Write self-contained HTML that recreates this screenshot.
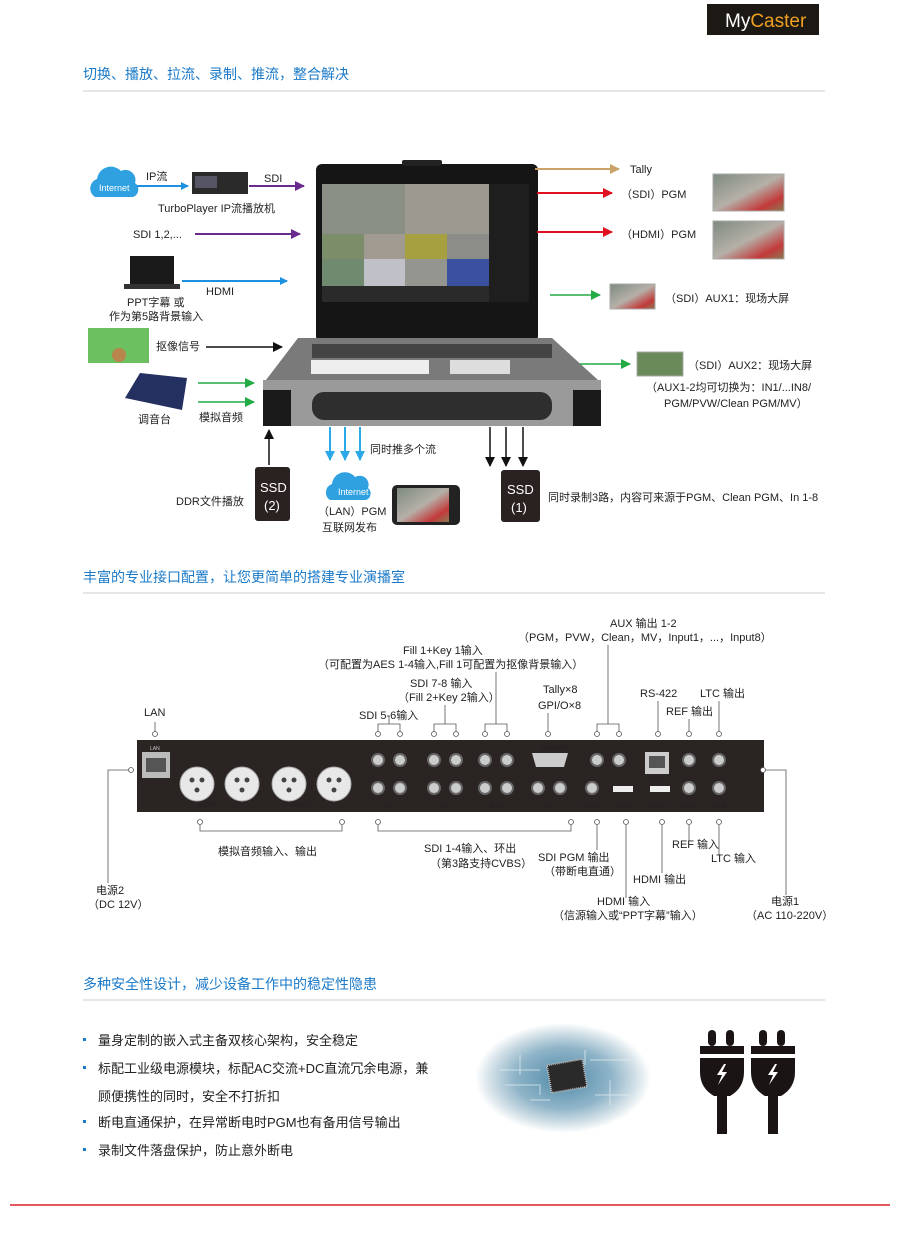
<!DOCTYPE html>
<html><head><meta charset="utf-8"><style>
html,body{margin:0;padding:0;background:#fff;width:900px;height:1245px;overflow:hidden}
svg text{font-family:"Liberation Sans","Noto Sans CJK SC",sans-serif;fill:#222}
</style></head><body>
<svg width="900" height="1245" viewBox="0 0 900 1245" xmlns="http://www.w3.org/2000/svg">
<defs>
<marker id="mb" markerWidth="8" markerHeight="8" refX="7" refY="4" orient="auto" markerUnits="userSpaceOnUse"><path d="M0,0L8,4L0,8z" fill="#1e90e0"/></marker>
<marker id="mp" markerWidth="10" markerHeight="10" refX="9" refY="5" orient="auto" markerUnits="userSpaceOnUse"><path d="M0,0L10,5L0,10z" fill="#6a2a8e"/></marker>
<marker id="mk" markerWidth="10" markerHeight="10" refX="9" refY="5" orient="auto" markerUnits="userSpaceOnUse"><path d="M0,0L10,5L0,10z" fill="#111"/></marker>
<marker id="mg" markerWidth="10" markerHeight="10" refX="9" refY="5" orient="auto" markerUnits="userSpaceOnUse"><path d="M0,0L10,5L0,10z" fill="#22aa44"/></marker>
<marker id="mr" markerWidth="10" markerHeight="10" refX="9" refY="5" orient="auto" markerUnits="userSpaceOnUse"><path d="M0,0L10,5L0,10z" fill="#e01020"/></marker>
<marker id="mt" markerWidth="10" markerHeight="10" refX="9" refY="5" orient="auto" markerUnits="userSpaceOnUse"><path d="M0,0L10,5L0,10z" fill="#c9a36a"/></marker>
<marker id="mc" markerWidth="10" markerHeight="10" refX="9" refY="5" orient="auto" markerUnits="userSpaceOnUse"><path d="M0,0L10,5L0,10z" fill="#2aa8e8"/></marker>
<linearGradient id="race" x1="0" y1="0" x2="1" y2="1"><stop offset="0" stop-color="#7d8a80"/><stop offset=".5" stop-color="#b5b0a8"/><stop offset=".8" stop-color="#c23a3a"/><stop offset="1" stop-color="#8a7a50"/></linearGradient>
<radialGradient id="chip" cx=".5" cy=".5" r=".5"><stop offset="0" stop-color="#4f8aa8"/><stop offset=".55" stop-color="#8fb4c8"/><stop offset=".85" stop-color="#d8e4ea"/><stop offset="1" stop-color="#fff"/></radialGradient>
</defs>

<rect x="707" y="4" width="112" height="31" fill="#1c1814"/>
<text x="725" y="27" font-size="19" style="fill:#fff">My<tspan style="fill:#f0a020">Caster</tspan></text>

<text x="83" y="79" font-size="14" style="fill:#1a7ac8">切换、播放、拉流、录制、推流，整合解决</text>
<line x1="83" y1="91" x2="825" y2="91" stroke="#ccc" stroke-width="1"/>
<text x="83" y="582" font-size="14" style="fill:#1a7ac8">丰富的专业接口配置，让您更简单的搭建专业演播室</text>
<line x1="83" y1="593" x2="825" y2="593" stroke="#ccc"/>
<text x="83" y="989" font-size="14" style="fill:#1a7ac8">多种安全性设计，减少设备工作中的稳定性隐患</text>
<line x1="83" y1="1000" x2="825" y2="1000" stroke="#ccc"/>
<line x1="10" y1="1205" x2="890" y2="1205" stroke="#d8202a" stroke-width="1.5"/>

<g font-size="11">
<path d="M95,197 a10,10 0 0 1 2,-18 a14,14 0 0 1 24,-8 a10,10 0 0 1 14,12 a8,8 0 0 1 -2,14 z" fill="#2fa0e0"/>
<text x="99" y="191" font-size="9" style="fill:#fff">Internet</text>
<text x="146" y="180">IP流</text>
<line x1="137" y1="186" x2="188" y2="186" stroke="#1e90e0" stroke-width="2" marker-end="url(#mb)"/>
<rect x="192" y="172" width="56" height="22" fill="#2a2a2a"/><rect x="195" y="176" width="22" height="12" fill="#556"/>
<text x="158" y="212">TurboPlayer IP流播放机</text>
<text x="264" y="182">SDI</text>
<line x1="249" y1="186" x2="304" y2="186" stroke="#6a2a8e" stroke-width="2" marker-end="url(#mp)"/>
<text x="133" y="238">SDI 1,2,...</text>
<line x1="195" y1="234" x2="300" y2="234" stroke="#6a2a8e" stroke-width="2" marker-end="url(#mp)"/>
<rect x="130" y="256" width="44" height="28" fill="#1a1a1a"/><rect x="124" y="284" width="56" height="5" fill="#333"/>
<line x1="182" y1="281" x2="287" y2="281" stroke="#1e90e0" stroke-width="2" marker-end="url(#mb)"/>
<text x="206" y="295">HDMI</text>
<text x="127" y="306">PPT字幕 或</text>
<text x="109" y="320">作为第5路背景输入</text>
<rect x="88" y="328" width="61" height="35" fill="#6cc060"/><circle cx="119" cy="355" r="7" fill="#b8864a"/>
<text x="156" y="350">抠像信号</text>
<line x1="206" y1="347" x2="282" y2="347" stroke="#111" stroke-width="1.5" marker-end="url(#mk)"/>
<path d="M125,398 L140,373 L187,378 L182,410 Z" fill="#243060"/>
<line x1="198" y1="383" x2="254" y2="383" stroke="#22aa44" stroke-width="1.5" marker-end="url(#mg)"/>
<line x1="198" y1="402" x2="254" y2="402" stroke="#22aa44" stroke-width="1.5" marker-end="url(#mg)"/>
<text x="138" y="423">调音台</text>
<text x="199" y="421">模拟音频</text>

<rect x="316" y="164" width="222" height="178" rx="6" fill="#151515"/>
<rect x="402" y="160" width="40" height="6" rx="2" fill="#222"/>
<rect x="322" y="184" width="207" height="118" fill="url(#race)"/>
<rect x="322" y="184" width="83" height="50" fill="#8a8f85"/><rect x="405" y="184" width="84" height="50" fill="#9c9a90"/>
<rect x="322" y="234" width="42" height="25" fill="#7c8d6a"/><rect x="364" y="234" width="41" height="25" fill="#a09a90"/>
<rect x="405" y="234" width="42" height="25" fill="#a6a040"/><rect x="447" y="234" width="42" height="25" fill="#8c8c88"/>
<rect x="322" y="259" width="42" height="27" fill="#708a70"/><rect x="364" y="259" width="41" height="27" fill="#c0c0c8"/>
<rect x="405" y="259" width="42" height="27" fill="#959590"/><rect x="447" y="259" width="42" height="27" fill="#3a50a0"/>
<rect x="322" y="286" width="167" height="16" fill="#2a2a2a"/>
<rect x="489" y="184" width="40" height="118" fill="#1e1e1e"/>
<path d="M298,338 L552,338 L598,380 L266,380 Z" fill="#7a7a7a"/>
<rect x="312" y="344" width="240" height="14" fill="#444"/>
<rect x="311" y="360" width="118" height="14" fill="#eee"/>
<rect x="450" y="360" width="60" height="14" fill="#ddd"/>
<rect x="263" y="380" width="338" height="46" fill="#9a9a9a"/>
<rect x="312" y="392" width="240" height="28" rx="12" fill="#2e2e2e"/>
<rect x="263" y="390" width="28" height="36" fill="#1a1a1a"/><rect x="573" y="390" width="28" height="36" fill="#1a1a1a"/>

<line x1="269" y1="465" x2="269" y2="430" stroke="#111" stroke-width="1.5" marker-end="url(#mk)"/>
<rect x="255" y="467" width="35" height="54" rx="3" fill="#2a2220"/>
<text x="260" y="492" font-size="13" style="fill:#fff">SSD</text><text x="264" y="510" font-size="13" style="fill:#fff">(2)</text>
<text x="176" y="505">DDR文件播放</text>
<line x1="330" y1="427" x2="330" y2="460" stroke="#2aa8e8" stroke-width="2" marker-end="url(#mc)"/>
<line x1="345" y1="427" x2="345" y2="460" stroke="#2aa8e8" stroke-width="2" marker-end="url(#mc)"/>
<line x1="360" y1="427" x2="360" y2="460" stroke="#2aa8e8" stroke-width="2" marker-end="url(#mc)"/>
<text x="370" y="453">同时推多个流</text>
<path d="M330,500 a9,9 0 0 1 2,-16 a13,13 0 0 1 23,-7 a9,9 0 0 1 13,11 a7,7 0 0 1 -2,12 z" fill="#2fa0e0"/>
<text x="338" y="495" font-size="9" style="fill:#fff">Internet</text>
<text x="318" y="515">（LAN）PGM</text>
<text x="322" y="531">互联网发布</text>
<rect x="392" y="485" width="68" height="40" rx="5" fill="#222"/><rect x="397" y="488" width="52" height="34" fill="url(#race)"/>
<line x1="490" y1="427" x2="490" y2="466" stroke="#111" stroke-width="1.5" marker-end="url(#mk)"/>
<line x1="506" y1="427" x2="506" y2="466" stroke="#111" stroke-width="1.5" marker-end="url(#mk)"/>
<line x1="523" y1="427" x2="523" y2="466" stroke="#111" stroke-width="1.5" marker-end="url(#mk)"/>
<rect x="501" y="470" width="39" height="52" rx="3" fill="#2a2220"/>
<text x="507" y="494" font-size="13" style="fill:#fff">SSD</text><text x="511" y="512" font-size="13" style="fill:#fff">(1)</text>
<text x="548" y="501">同时录制3路，内容可来源于PGM、Clean PGM、In 1-8</text>

<line x1="535" y1="169" x2="619" y2="169" stroke="#c9a36a" stroke-width="2" marker-end="url(#mt)"/>
<text x="630" y="173">Tally</text>
<line x1="537" y1="193" x2="612" y2="193" stroke="#e01020" stroke-width="2" marker-end="url(#mr)"/>
<text x="621" y="198">（SDI）PGM</text>
<line x1="537" y1="232" x2="612" y2="232" stroke="#e01020" stroke-width="2" marker-end="url(#mr)"/>
<text x="621" y="238">（HDMI）PGM</text>
<rect x="713" y="174" width="71" height="37" fill="url(#race)" stroke="#aaa"/>
<rect x="713" y="221" width="71" height="38" fill="url(#race)" stroke="#aaa"/>
<line x1="550" y1="295" x2="600" y2="295" stroke="#22aa44" stroke-width="1.5" marker-end="url(#mg)"/>
<rect x="610" y="284" width="45" height="25" fill="url(#race)" stroke="#aaa"/>
<text x="665" y="302">（SDI）AUX1：现场大屏</text>
<line x1="580" y1="364" x2="630" y2="364" stroke="#22aa44" stroke-width="1.5" marker-end="url(#mg)"/>
<rect x="637" y="352" width="46" height="24" fill="#6a8a5a" stroke="#aaa"/>
<text x="688" y="369">（SDI）AUX2：现场大屏</text>
<text x="646" y="391">（AUX1-2均可切换为：IN1/...IN8/</text>
<text x="664" y="407">PGM/PVW/Clean PGM/MV）</text>
</g>

<g font-size="11" stroke="#555" stroke-width="0.8" fill="none">
<text x="610" y="627" stroke="none">AUX 输出 1-2</text>
<text x="518" y="641" stroke="none">（PGM，PVW，Clean，MV，Input1，...，Input8）</text>
<text x="403" y="654" stroke="none">Fill 1+Key 1输入</text>
<text x="318" y="668" stroke="none">（可配置为AES 1-4输入,Fill 1可配置为抠像背景输入）</text>
<text x="410" y="687" stroke="none">SDI 7-8 输入</text>
<text x="398" y="701" stroke="none">（Fill 2+Key 2输入）</text>
<text x="543" y="693" stroke="none">Tally×8</text>
<text x="538" y="709" stroke="none">GPI/O×8</text>
<text x="640" y="697" stroke="none">RS-422</text>
<text x="700" y="697" stroke="none">LTC 输出</text>
<text x="666" y="715" stroke="none">REF 输出</text>
<text x="359" y="719" stroke="none">SDI 5-6输入</text>
<text x="144" y="716" stroke="none">LAN</text>
<path d="M155,722V732 M378,732V724H400V732 M389,724V716 M434,732V724H456V732 M445,724V705 M485,732V724H507V732 M496,724V672 M548,732V713 M597,732V724H619V732 M608,724V645 M658,732V701 M689,732V719 M719,732V701"/>
<g fill="#fff">
<circle cx="155" cy="734" r="2.5"/><circle cx="378" cy="734" r="2.5"/><circle cx="400" cy="734" r="2.5"/><circle cx="434" cy="734" r="2.5"/><circle cx="456" cy="734" r="2.5"/><circle cx="485" cy="734" r="2.5"/><circle cx="507" cy="734" r="2.5"/><circle cx="548" cy="734" r="2.5"/><circle cx="597" cy="734" r="2.5"/><circle cx="619" cy="734" r="2.5"/><circle cx="658" cy="734" r="2.5"/><circle cx="689" cy="734" r="2.5"/><circle cx="719" cy="734" r="2.5"/>
</g>
</g>
<rect x="137" y="740" width="627" height="72" fill="#2a2422"/>
<g font-size="5" style="fill:#ddd">
<rect x="142" y="752" width="28" height="26" fill="#bbb"/><rect x="146" y="758" width="20" height="14" fill="#555"/>
<text x="150" y="750" style="fill:#ccc">LAN</text>
<g fill="#e8e8e8" stroke="#aaa">
<circle cx="197" cy="784" r="17"/><circle cx="242" cy="784" r="17"/><circle cx="289" cy="784" r="17"/><circle cx="334" cy="784" r="17"/>
</g>
<g fill="#444"><circle cx="192" cy="780" r="2.5"/><circle cx="202" cy="780" r="2.5"/><circle cx="197" cy="790" r="2.5"/><circle cx="237" cy="780" r="2.5"/><circle cx="247" cy="780" r="2.5"/><circle cx="242" cy="790" r="2.5"/><circle cx="284" cy="780" r="2.5"/><circle cx="294" cy="780" r="2.5"/><circle cx="289" cy="790" r="2.5"/><circle cx="329" cy="780" r="2.5"/><circle cx="339" cy="780" r="2.5"/><circle cx="334" cy="790" r="2.5"/></g>
<g fill="#ccc" stroke="#666" stroke-width="2">
<circle cx="378" cy="760" r="6"/><circle cx="400" cy="760" r="6"/><circle cx="434" cy="760" r="6"/><circle cx="456" cy="760" r="6"/><circle cx="485" cy="760" r="6"/><circle cx="507" cy="760" r="6"/><circle cx="597" cy="760" r="6"/><circle cx="619" cy="760" r="6"/><circle cx="689" cy="760" r="6"/><circle cx="719" cy="760" r="6"/>
<circle cx="378" cy="788" r="6"/><circle cx="400" cy="788" r="6"/><circle cx="434" cy="788" r="6"/><circle cx="456" cy="788" r="6"/><circle cx="485" cy="788" r="6"/><circle cx="507" cy="788" r="6"/><circle cx="538" cy="788" r="6"/><circle cx="560" cy="788" r="6"/><circle cx="592" cy="788" r="6"/><circle cx="689" cy="788" r="6"/><circle cx="719" cy="788" r="6"/>
</g>
<path d="M532,753 h36 l-4,14 h-28 z" fill="#ccc"/>
<rect x="645" y="752" width="24" height="22" fill="#ccc"/><rect x="649" y="756" width="16" height="12" fill="#555"/>
<rect x="613" y="786" width="20" height="6" fill="#eee"/><rect x="650" y="786" width="20" height="6" fill="#eee"/>
<text x="198" y="807">AUDIO 1</text><text x="290" y="807">AUDIO 2</text>
<text x="383" y="808">SDI 1</text><text x="438" y="808">SDI 2</text><text x="490" y="808">SDI 3</text><text x="542" y="808">SDI 4</text>
<text x="580" y="808">PGM OUT</text><text x="614" y="808">HDMI IN</text><text x="649" y="808">MV OUT</text><text x="682" y="808">REF IN</text><text x="711" y="808">LTC IN</text>
<text x="540" y="749">Tally &amp; GPI/O</text><text x="649" y="780">RS-422</text>
</g>
<g font-size="11" stroke="#555" stroke-width="0.8" fill="none">
<path d="M200,825V831H342V825 M378,825V831H571V825 M597,825V850 M626,825V898 M662,825V873 M689,825V841 M719,825V855 M132,770H108V883 M762,770H786V895"/>
<g fill="#fff">
<circle cx="200" cy="822" r="2.5"/><circle cx="342" cy="822" r="2.5"/><circle cx="378" cy="822" r="2.5"/><circle cx="571" cy="822" r="2.5"/><circle cx="597" cy="822" r="2.5"/><circle cx="626" cy="822" r="2.5"/><circle cx="662" cy="822" r="2.5"/><circle cx="689" cy="822" r="2.5"/><circle cx="719" cy="822" r="2.5"/><circle cx="131" cy="770" r="2.5"/><circle cx="763" cy="770" r="2.5"/>
</g>
<text x="218" y="855" stroke="none">模拟音频输入、输出</text>
<text x="424" y="852" stroke="none">SDI 1-4输入、环出</text>
<text x="430" y="867" stroke="none">（第3路支持CVBS）</text>
<text x="538" y="861" stroke="none">SDI PGM 输出</text>
<text x="544" y="875" stroke="none">（带断电直通）</text>
<text x="672" y="848" stroke="none">REF 输入</text>
<text x="711" y="862" stroke="none">LTC 输入</text>
<text x="633" y="883" stroke="none">HDMI 输出</text>
<text x="597" y="905" stroke="none">HDMI 输入</text>
<text x="553" y="919" stroke="none">（信源输入或“PPT字幕”输入）</text>
<text x="96" y="894" stroke="none">电源2</text>
<text x="88" y="908" stroke="none">（DC 12V）</text>
<text x="771" y="905" stroke="none">电源1</text>
<text x="746" y="919" stroke="none">（AC 110-220V）</text>
</g>

<g font-size="13">
<rect x="83" y="1038" width="3" height="3" fill="#1a7ac8"/><text x="98" y="1045">量身定制的嵌入式主备双核心架构，安全稳定</text>
<rect x="83" y="1066" width="3" height="3" fill="#1a7ac8"/><text x="98" y="1073">标配工业级电源模块，标配AC交流+DC直流冗余电源，兼</text>
<text x="98" y="1101">顾便携性的同时，安全不打折扣</text>
<rect x="83" y="1120" width="3" height="3" fill="#1a7ac8"/><text x="98" y="1127">断电直通保护，在异常断电时PGM也有备用信号输出</text>
<rect x="83" y="1148" width="3" height="3" fill="#1a7ac8"/><text x="98" y="1155">录制文件落盘保护，防止意外断电</text>
</g>
<ellipse cx="563" cy="1078" rx="88" ry="55" fill="url(#chip)"/>
<g stroke="#e6f0f4" stroke-width="1" fill="none" opacity=".7">
<path d="M500,1070h40 M505,1085h35v10 M590,1060h40 M595,1095h35 M520,1055v20 M610,1080v25 M530,1100h20 M585,1050v15"/>
</g>
<rect x="549" y="1062" width="36" height="28" fill="#2a2a2a" stroke="#bbb" stroke-width="2" stroke-dasharray="1 1" transform="rotate(-10 567 1076)"/>
<g fill="#1a1414">
<rect x="708" y="1030" width="8" height="16" rx="4"/><rect x="726" y="1030" width="8" height="16" rx="4"/>
<path d="M700,1046h44v8h-44z M700,1058h44v14q0,16 -14,24h-16q-14,-8 -14,-24z"/>
<rect x="717" y="1096" width="10" height="38"/>
<rect x="759" y="1030" width="8" height="16" rx="4"/><rect x="777" y="1030" width="8" height="16" rx="4"/>
<path d="M751,1046h44v8h-44z M751,1058h44v14q0,16 -14,24h-16q-14,-8 -14,-24z"/>
<rect x="768" y="1096" width="10" height="38"/>
</g>
<path d="M724,1064l-7,11h5l-4,10l9,-13h-5l4,-8z M775,1064l-7,11h5l-4,10l9,-13h-5l4,-8z" fill="#fff"/>
</svg>
</body></html>
